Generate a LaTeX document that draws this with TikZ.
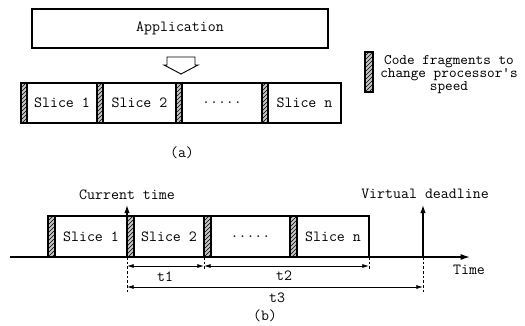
\documentclass[tikz,border=0pt]{standalone}
\usetikzlibrary{patterns,arrows.meta}
\begin{document}
\begin{tikzpicture}[x=0.75pt,y=-0.75pt,
  every node/.style={font=\ttfamily\fontsize{11.6}{13}\selectfont, inner sep=0pt},
  slicebox/.style={draw, line width=0.9pt, anchor=center},
  fragbox/.style={draw, line width=1pt, fill=gray!45, postaction={pattern=north east lines}, anchor=center},
  lbl/.style={anchor=center},
  legline/.style={anchor=base, font=\ttfamily\fontsize{10.9}{11}\selectfont},
  dim/.style={line width=0.6pt, {Latex[length=5pt,width=3pt]}-{Latex[length=5pt,width=3pt]}},
  guide/.style={line width=0.6pt, dashed, dash pattern=on 2pt off 1.5pt},
  uparrow/.style={line width=0.9pt, -{Latex[length=6pt,width=4pt]}}
]
\useasboundingbox (0,0) rectangle (525,325);
\newcommand\boxnode[7]{\node[#1, minimum width={(#4-#3)*0.75pt}, minimum height={(#6-#5)*0.75pt}] (#2) at ({(#3+#4)/2},{(#5+#6)/2}) {#7};}

% (a)
\boxnode{slicebox}{app}{32}{328}{9}{48}{Application}
\draw[line width=0.7pt] (167,57) -- (195,57) -- (195,65) -- (198,65) -- (181,74) -- (164,65) -- (167,65) -- cycle;

\boxnode{fragbox}{fa0}{21}{27}{83}{123}{}
\boxnode{slicebox}{sa1}{27}{97}{83}{123}{Slice 1}
\boxnode{fragbox}{fa1}{97}{103}{83}{123}{}
\boxnode{slicebox}{sa2}{103}{176}{83}{123}{Slice 2}
\boxnode{fragbox}{fa2}{176}{182}{83}{123}{}
\boxnode{slicebox}{sa3}{182}{262}{83}{123}{.....}
\boxnode{fragbox}{fa3}{262}{268}{83}{123}{}
\boxnode{slicebox}{sa4}{268}{341}{83}{123}{Slice n}

\boxnode{fragbox}{legfrag}{365}{373}{52}{92}{}
\node[legline] (leg1) at (449,64) {Code fragments to};
\node[legline] (leg2) at (449,77) {change processor's};
\node[legline] (leg3) at (449,90) {speed};
\node[lbl] (capa) at (182,153) {(a)};

% (b)
\coordinate (tl0) at (10,257);
\coordinate (tl1) at (470,257);
\draw[line width=1.1pt, -{Latex[length=7pt,width=4.5pt]}] (tl0) -- (tl1);

\boxnode{fragbox}{fb0}{48}{55}{216}{257}{}
\boxnode{slicebox}{sb1}{55}{127}{216}{257}{Slice 1}
\boxnode{fragbox}{fb1}{127}{134}{216}{257}{}
\boxnode{slicebox}{sb2}{134}{204}{216}{257}{Slice 2}
\boxnode{fragbox}{fb2}{204}{211}{216}{257}{}
\boxnode{slicebox}{sb3}{211}{290}{216}{257}{.....}
\boxnode{fragbox}{fb3}{290}{297}{216}{257}{}
\boxnode{slicebox}{sb4}{297}{369}{216}{257}{Slice n}

\coordinate (ctbase) at (127,257);
\coordinate (cttop) at (127,205);
\draw[uparrow] (ctbase) -- (cttop);
\node[lbl] (ct) at (127,195) {Current time};

\coordinate (vdbase) at (423,257);
\coordinate (vdtop) at (423,205);
\draw[uparrow] (vdbase) -- (vdtop);
\node[lbl] (vd) at (425,194) {Virtual deadline};

\node[lbl] (time) at (469,270) {Time};

% guides
\coordinate (g1) at (127,292);
\coordinate (g2a) at (204,257);
\coordinate (g2) at (204,271);
\coordinate (g3a) at (369,257);
\coordinate (g3) at (369,269);
\coordinate (g4) at (423,292);
\draw[guide] (ctbase) -- (g1);
\draw[guide] (g2a) -- (g2);
\draw[guide] (g3a) -- (g3);
\draw[guide] (vdbase) -- (g4);

\coordinate (d1a) at (127,266);
\coordinate (d1b) at (204,266);
\coordinate (d2b) at (369,266);
\coordinate (d3a) at (127,287);
\coordinate (d3b) at (423,287);
\draw[dim] (d1a) -- (d1b);
\draw[dim] (d1b) -- (d2b);
\draw[dim] (d3a) -- (d3b);
\node[lbl] (t1) at (165,277) {t1};
\node[lbl] (t2) at (284,276) {t2};
\node[lbl] (t3) at (277,298) {t3};
\node[lbl] (capb) at (265,316) {(b)};
\end{tikzpicture}
\end{document}
